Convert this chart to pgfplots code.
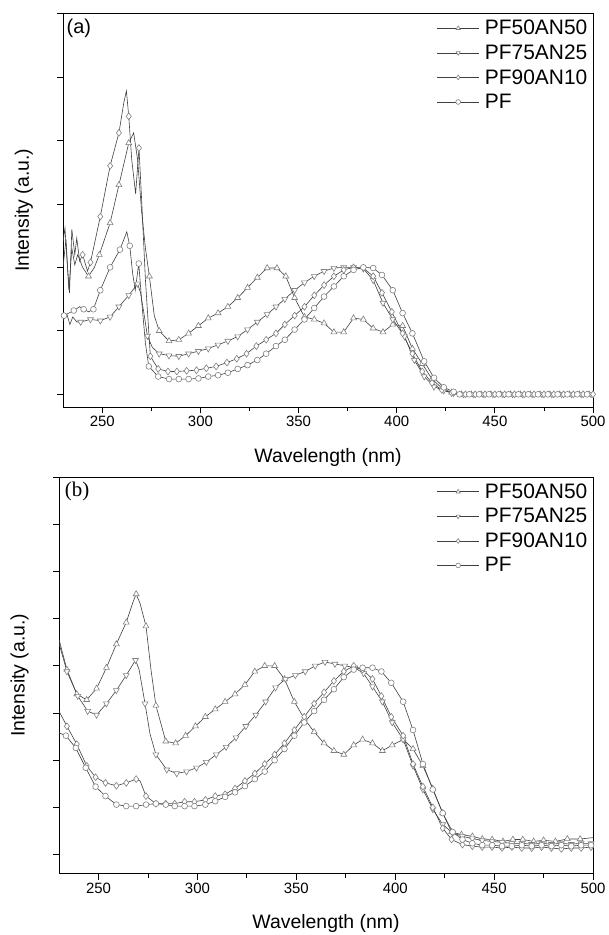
\documentclass[border=0pt]{standalone}
\usepackage{pgfplots}
\pgfplotsset{compat=1.18}
\usepackage{pgfplotstable}
\usepackage{fontspec}
\setmainfont{Liberation Sans}
\newfontfamily\seriffont{Liberation Serif}
\definecolor{ln}{gray}{0.25}
\definecolor{mk}{gray}{0.5}

% ---------------- panel (a) ----------------
\pgfplotstableread{
x y k
230 1.00 0
231.5 1.22 0
233 0.82 0
234.5 1.15 0
236 1.02 0
237.5 1.10 0
240 1.00 0
243 0.93 1
246 1.00 0
248.5 1.10 1
254 1.35 1
258.5 1.65 1
263.5 1.98 1
266 2.06 0
268 1.85 0
270 1.45 0
272 1.15 0
274 0.93 1
276.5 0.62 0
279 0.50 1
284 0.42 1
289 0.43 1
294 0.48 1
299 0.54 1
304 0.60 1
309 0.64 1
314 0.69 1
319 0.76 1
324 0.84 1
329 0.92 1
334 0.995 1
339 0.995 1
343.5 0.93 1
348 0.76 1
353 0.61 1
358 0.59 1
363 0.56 1
368 0.49 1
373 0.49 1
378 0.60 1
383 0.59 1
388 0.52 1
393 0.49 1
398 0.55 1
403 0.54 1
408 0.36 1
413 0.24 1
418 0.12 1
423 0.05 1
428 0.015 1
433 0 1
438 0 1
443 0 1
448 0 1
453 0 1
458 0 1
463 0 1
468 0 1
473 0 1
478 0 1
483 0 1
488 0 1
493 0 1
498 0 1
500 0 0
}\aA
\pgfplotstableread{
x y k
230 0.58 0
232 0.63 0
233.5 0.55 0
235 0.61 0
237 0.57 0
239 0.57 1
244 0.59 1
249 0.58 1
254 0.61 1
258.5 0.69 1
263.5 0.78 1
266.5 0.84 0
268 0.87 1
269.5 0.80 0
271 0.66 0
273 0.46 1
275.5 0.37 0
279 0.32 1
284 0.305 1
289 0.30 1
294 0.32 1
299 0.34 1
304 0.36 1
309 0.39 1
314 0.42 1
319 0.455 1
324 0.51 1
329 0.57 1
334 0.63 1
338.5 0.69 1
343 0.75 1
348 0.82 1
353 0.88 1
358 0.93 1
363 0.97 1
368 0.995 1
373 1.0 1
378 1.0 1
383 0.99 1
388 0.90 1
393 0.72 1
398 0.59 1
404 0.455 1
409 0.27 1
414 0.14 1
419 0.06 1
424 0.03 1
429 0.01 1
434 0 1
439 0 1
444 0 1
449 0 1
454 0 1
459 0 1
464 0 1
469 0 1
474 0 1
479 0 1
484 0 1
489 0 1
494 0 1
499 0 1
500 0 0
}\aB
\pgfplotstableread{
x y k
230 1.20 0
231 1.31 0
232.5 0.95 0
233.3 0.80 0
234.5 1.30 0
236 1.10 0
237 1.23 0
238.5 1.05 0
240 1.10 1
242.5 0.97 0
244 1.04 1
249 1.40 1
254 1.80 1
258.5 2.06 1
261 2.30 0
262.3 2.39 0
263.5 2.19 1
265 1.85 0
267 1.58 0
268.7 1.94 1
270 1.55 0
272 0.90 0
274.5 0.30 1
278.5 0.20 1
283.5 0.18 1
288 0.18 1
293 0.185 1
298 0.19 1
303 0.205 1
308 0.22 1
313.5 0.25 1
318.5 0.28 1
323.5 0.32 1
328.5 0.38 1
333.5 0.43 1
338.5 0.48 1
343 0.55 1
348 0.62 1
353 0.69 1
358 0.78 1
363 0.86 1
368 0.93 1
373 0.98 1
378 1.0 1
383 0.995 1
388 0.93 1
392.5 0.80 1
397.5 0.65 1
403 0.48 1
408 0.32 1
413 0.18 1
418 0.09 1
423 0.035 1
428 0.01 1
430 0 0
435 0 1
440 0 1
445 0 1
450 0 1
455 0 1
460 0 1
465 0 1
470 0 1
475 0 1
480 0 1
485 0 1
490 0 1
495 0 1
500 0 1
}\aC
\pgfplotstableread{
x y k
230 0.62 0
230.5 0.62 1
233 0.64 0
235.5 0.66 1
238.5 0.69 0
240.5 0.67 1
243 0.65 0
245.5 0.67 1
249 0.82 1
254 1.00 1
259 1.14 1
262.5 1.28 0
264 1.17 1
265.5 0.95 0
266.8 0.82 0
268.6 1.03 1
270 0.75 0
272 0.40 0
273.7 0.22 1
278.5 0.14 1
284 0.12 1
289 0.12 1
294 0.12 1
299 0.125 1
304 0.14 1
309 0.15 1
314 0.17 1
319 0.20 1
324 0.23 1
329 0.27 1
333.5 0.32 1
338.5 0.38 1
343 0.43 1
348 0.51 1
353 0.59 1
358 0.68 1
363 0.77 1
368 0.85 1
373 0.93 1
378 0.98 1
383 1.0 1
388 0.995 1
392.5 0.94 1
398 0.82 1
403 0.64 1
408 0.48 1
414 0.26 1
419 0.13 1
424 0.055 1
429 0.02 1
432 0 1
437 0 1
442 0 1
447 0 1
452 0 1
457 0 1
462 0 1
467 0 1
472 0 1
477 0 1
482 0 1
487 0 1
492 0 1
497 0 1
500 0 0
}\aD

% ---------------- panel (b) ----------------
\pgfplotstableread{
x y k
230 1.14 0
234 0.98 1
239 0.85 1
244 0.82 1
249 0.88 1
254 0.99 1
259 1.115 1
264 1.23 1
267.5 1.34 0
269 1.38 1
271 1.33 0
274 1.21 1
276.5 0.98 0
279 0.79 1
284 0.60 1
289 0.59 1
294 0.63 1
299 0.68 1
304 0.73 1
309 0.77 1
314 0.81 1
319 0.85 1
324 0.90 1
329 0.97 1
334 1.0 1
339 1.0 1
344 0.93 1
349 0.81 1
354 0.72 1
359 0.65 1
364 0.59 1
369 0.55 1
374 0.53 1
379 0.58 1
383.5 0.61 1
388.5 0.59 1
393.5 0.55 1
398.5 0.58 1
404 0.61 1
409 0.56 1
414 0.47 1
419 0.35 1
424 0.22 1
428.5 0.12 1
433.5 0.106 1
439 0.097 1
444 0.083 1
449 0.08 1
454.5 0.07 1
459.5 0.08 1
464.5 0.08 1
470 0.07 1
475 0.076 1
481 0.07 1
487 0.083 1
493.5 0.083 1
500 0.09 0
}\bA
\pgfplotstableread{
x y k
230 1.12 0
234 0.97 1
239.5 0.84 1
244.5 0.76 1
249 0.74 1
254 0.80 1
259 0.87 1
264 0.95 1
268.7 1.03 1
270.5 0.98 0
273.5 0.80 1
276 0.64 0
279 0.53 1
284.5 0.45 1
289.5 0.43 1
294.5 0.44 1
299.5 0.46 1
304.5 0.49 1
309.5 0.53 1
314.5 0.57 1
319.5 0.62 1
324.5 0.68 1
329.5 0.74 1
334.5 0.81 1
339.5 0.885 1
344.5 0.93 1
349.5 0.95 1
354.5 0.97 1
359.5 1.0 1
364.5 1.02 1
369.5 1.01 1
374.5 1.0 1
379.5 0.99 1
384 0.96 1
388.5 0.89 1
393.5 0.81 1
398.5 0.70 1
404 0.61 1
409 0.47 1
414 0.345 1
419 0.24 1
424 0.16 1
429 0.115 1
434 0.097 1
439 0.085 1
444 0.075 1
449 0.07 1
454 0.065 1
459 0.06 1
464 0.06 1
469 0.055 1
474 0.06 1
479 0.055 1
484 0.06 1
489 0.055 1
494 0.06 1
499 0.06 1
500 0.06 0
}\bB
\pgfplotstableread{
x y k
230 0.76 0
234 0.68 1
239 0.585 1
244 0.47 1
248.5 0.41 1
253.5 0.38 1
259 0.365 1
264 0.38 1
269 0.40 1
271 0.39 0
274 0.31 1
279 0.27 1
284 0.27 1
288.5 0.27 1
293.5 0.28 1
298.5 0.28 1
304 0.29 1
309 0.31 1
314 0.32 1
319 0.35 1
324 0.39 1
329 0.43 1
334 0.48 1
339 0.53 1
344 0.59 1
349 0.66 1
354 0.73 1
359 0.80 1
364 0.86 1
369 0.92 1
374 0.97 1
379 1.0 1
383.5 0.98 1
388.5 0.93 1
393 0.84 1
398 0.73 1
404 0.63 1
409 0.48 1
414 0.36 1
419 0.25 1
424 0.14 1
428.5 0.08 1
434 0.053 1
439 0.045 1
444 0.04 1
449 0.04 1
454 0.035 1
459 0.04 1
464 0.035 1
469 0.035 1
474 0.04 1
479 0.035 1
484 0.03 1
489 0.035 1
494 0.035 1
499 0.04 1
500 0.04 0
}\bC
\pgfplotstableread{
x y k
230 0.645 0
233.5 0.63 1
238.5 0.565 1
243.5 0.46 1
248.5 0.36 1
253.5 0.31 1
259 0.265 1
264 0.257 1
269 0.257 1
274 0.265 1
279 0.27 1
284 0.265 1
288.5 0.257 1
293.5 0.257 1
298.5 0.257 1
304 0.265 1
309 0.283 1
314 0.306 1
319 0.33 1
324 0.363 1
329 0.40 1
334 0.44 1
339 0.50 1
344 0.56 1
349 0.63 1
354 0.70 1
359 0.76 1
364 0.82 1
369 0.876 1
374 0.94 1
379 0.98 1
383.5 0.99 1
388.5 0.99 1
393 0.97 1
398 0.91 1
404 0.81 1
409 0.66 1
414 0.48 1
419 0.345 1
424 0.22 1
429 0.12 1
434 0.08 1
439 0.06 1
444 0.05 1
449 0.05 1
454 0.045 1
459 0.045 1
464 0.05 1
469 0.045 1
474 0.05 1
479 0.045 1
484 0.05 1
489 0.045 1
494 0.05 1
499 0.05 1
500 0.05 0
}\bD

\pgfplotsset{
  common/.style={
    scale only axis,
    xmin=230, xmax=500,
    xtick={250,300,...,500},
    minor xtick={275,325,...,475},
    tick align=outside, tick pos=left,
    major tick length=6bp, minor tick length=4bp,
    yticklabels={},
    axis line style={line width=0.9bp},
    every tick/.style={black, line width=0.8bp},
    /pgf/number format/assume math mode=true,
    tick label style={font=\fontsize{15}{18}\selectfont},
    xlabel={Wavelength (nm)},
    ylabel={Intensity (a.u.)},
    label style={font=\fontsize{19.5}{23}\selectfont},
    xlabel style={at={(axis description cs:0.5,-0.127)}, anchor=center},
    ylabel style={at={(axis description cs:-0.074,0.5)}, anchor=center},
    legend entries={\hspace{5bp}PF50AN50,\hspace{5bp}PF75AN25,\hspace{5bp}PF90AN10,\hspace{5bp}PF},
    legend cell align=left,
    legend style={draw=none, fill=none, at={(axis description cs:1,1)},
      anchor=north east, xshift=-5bp, yshift=-6bp, inner sep=0pt,
      row sep=7.5bp, font=\fontsize{21}{23.5}\selectfont,
      nodes={inner sep=0.5bp}},
    legend image code/.code={
      \draw[ln, line width=0.6bp] (0bp,0bp) -- (42bp,0bp);
      \draw[mark size=2.4bp] plot coordinates {(21bp,0bp)};},
  },
  lin/.style={color=ln, line width=0.6bp, no marks, forget plot},
  mk/.style={only marks, mark size=3bp,
    mark options={draw=mk, fill=white, line width=0.6bp},
    restrict expr to domain={\thisrow{k}}{0.5:1.5}},
}

\begin{document}
\begin{tikzpicture}
\path[use as bounding box] (0,0) rectangle (609bp,-935bp);

\begin{axis}[common, at={(63bp,-13.5bp)}, anchor=north west,
  width=530bp, height=393.5bp, ymin=-0.1, ymax=3, ytick={0,0.5,...,3}]
\addplot[lin] table[x=x,y=y]{\aA};
\addplot[mk, mark=triangle*, mark size=3.4bp] table[x=x,y=y]{\aA};
\addplot[lin] table[x=x,y=y]{\aB};
\addplot[mk, mark=triangle*, mark size=3.4bp, every mark/.append style={rotate=180}] table[x=x,y=y]{\aB};
\addplot[lin] table[x=x,y=y]{\aC};
\addplot[mk, mark=diamond*, mark size=3.4bp] table[x=x,y=y]{\aC};
\addplot[lin] table[x=x,y=y]{\aD};
\addplot[mk, mark=*, mark size=2.9bp] table[x=x,y=y]{\aD};
\node[font=\fontsize{20}{22}\selectfont] at (rel axis cs:0.03,0.962) {(a)};
\end{axis}

\begin{axis}[common, at={(59bp,-477bp)}, anchor=north west,
  width=534bp, height=396.5bp, ymin=-0.1, ymax=2, ytick={0,0.25,...,2}]
\addplot[lin] table[x=x,y=y]{\bA};
\addplot[mk, mark=triangle*, mark size=3.4bp] table[x=x,y=y]{\bA};
\addplot[lin] table[x=x,y=y]{\bB};
\addplot[mk, mark=triangle*, mark size=3.4bp, every mark/.append style={rotate=180}] table[x=x,y=y]{\bB};
\addplot[lin] table[x=x,y=y]{\bC};
\addplot[mk, mark=diamond*, mark size=3.4bp] table[x=x,y=y]{\bC};
\addplot[lin] table[x=x,y=y]{\bD};
\addplot[mk, mark=*, mark size=2.9bp] table[x=x,y=y]{\bD};
\node[font=\seriffont\fontsize{21}{23}\selectfont] at (rel axis cs:0.034,0.963) {(b)};
\end{axis}
\end{tikzpicture}
\end{document}
